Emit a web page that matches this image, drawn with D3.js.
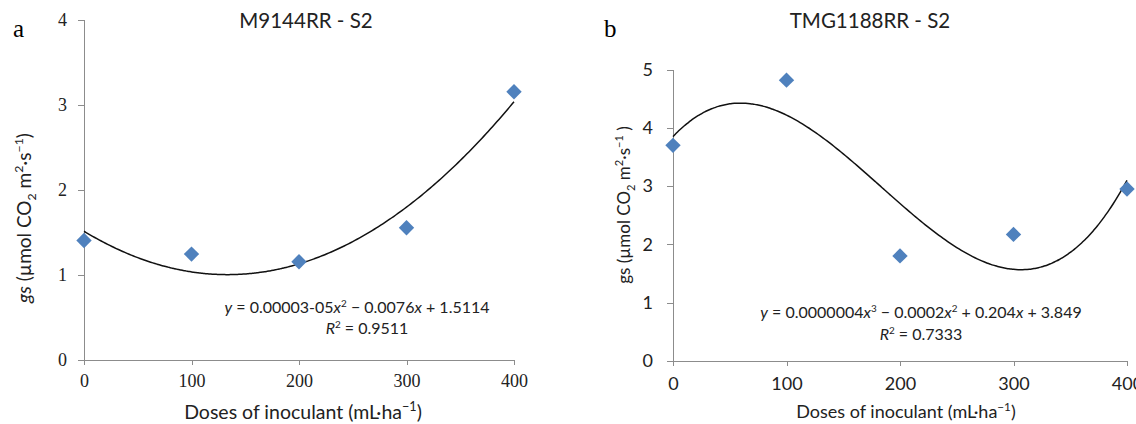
<!DOCTYPE html>
<html>
<head>
<meta charset="utf-8">
<script src="https://cdn.jsdelivr.net/npm/d3@7"></script>
<style>
  html, body { margin: 0; padding: 0; background: #fff; overflow: hidden; }
  svg { display: block; }
  .axis path, .axis line { stroke: #8c8c8c; stroke-width: 1; shape-rendering: crispEdges; }
</style>
</head>
<body>
<svg id="chart" width="1136" height="424"></svg>
<script>
// ---------- data ----------
const doses = [0, 100, 200, 300, 400];
const gsM9144RR = [1.40, 1.24, 1.15, 1.55, 3.15];
const gsTMG1188RR = [3.70, 4.82, 1.80, 2.17, 2.95];
const xTickValues = [0, 100, 200, 300, 400];
const yTicksA = [0, 1, 2, 3, 4];
const yTicksB = [0, 1, 2, 3, 4, 5];
const panelLetters = ["a", "b"];
const panelTitles = ["M9144RR - S2", "TMG1188RR - S2"];
const trendDegrees = [2, 3];
const r2Labels = ["0.9511", "0.7333"];

// ---------- helpers ----------
function polyfit(xs, ys, deg) {
  // least squares polynomial fit (x scaled by 1/100)
  const n = deg + 1;
  const A = Array.from({length: n}, () => new Array(n + 1).fill(0));
  xs.forEach((xv, i) => {
    const u = xv / 100;
    for (let r = 0; r < n; r++) {
      for (let c = 0; c < n; c++) A[r][c] += Math.pow(u, r + c);
      A[r][n] += ys[i] * Math.pow(u, r);
    }
  });
  for (let i = 0; i < n; i++) {
    let p = i;
    for (let k = i + 1; k < n; k++) if (Math.abs(A[k][i]) > Math.abs(A[p][i])) p = k;
    [A[i], A[p]] = [A[p], A[i]];
    for (let k = i + 1; k < n; k++) {
      const f = A[k][i] / A[i][i];
      for (let c = i; c <= n; c++) A[k][c] -= f * A[i][c];
    }
  }
  const coef = new Array(n).fill(0);
  for (let i = n - 1; i >= 0; i--) {
    let s = A[i][n];
    for (let c = i + 1; c < n; c++) s -= A[i][c] * coef[c];
    coef[i] = s / A[i][i];
  }
  return xv => coef.reduce((acc, cf, k) => acc + cf * Math.pow(xv / 100, k), 0);
}

const svg = d3.select("#chart");
const sans = "Lato, 'Open Sans', 'Liberation Sans', sans-serif";
const serif = "'Liberation Serif', 'DejaVu Serif', serif";

const panels = [
  {
    ys: gsM9144RR, yTicks: yTicksA, yMax: 4,
    xRange: [84, 514], yRange: [359.5, 19.5],
    tickFont: serif, tickSize: 18, xPad: 10, yPad: 11,
    letterPos: [13, 37], titlePos: [306, 28],
    yLabelPos: [24, 218], yLabelItalic: true, yLabelSize: 19,
    xLabelPos: [303, 419], xLabelSize: 19.5,
    eqPos: [357, 313], r2Pos: [367, 334], eqSize: 16,
    eqParts: [["y", true], [" = 0.00003-05", false], ["x", true], ["2", "sup"], [" \u2212 0.0076", false], ["x", true], [" + 1.5114", false]]
  },
  {
    ys: gsTMG1188RR, yTicks: yTicksB, yMax: 5,
    xRange: [673, 1127], yRange: [360.7, 69.7],
    tickFont: sans, tickSize: 18, xPad: 12, yPad: 14,
    letterPos: [604, 37], titlePos: [870, 28],
    yLabelPos: [624, 205], yLabelItalic: false, yLabelSize: 17,
    xLabelPos: [906, 418], xLabelSize: 18,
    eqPos: [921, 318], r2Pos: [921, 340], eqSize: 16,
    eqParts: [["y", true], [" = 0.0000004", false], ["x", true], ["3", "sup"], [" \u2212 0.0002", false], ["x", true], ["2", "sup"], [" + 0.204", false], ["x", true], [" + 3.849", false]]
  }
];

panels.forEach((p, i) => {
  const g = svg.append("g");
  const x = d3.scaleLinear().domain([0, 400]).range(p.xRange);
  const y = d3.scaleLinear().domain([0, p.yMax]).range(p.yRange);

  // axes
  const xAxis = g.append("g").attr("class", "axis")
    .attr("transform", `translate(0,${p.yRange[0]})`)
    .call(d3.axisBottom(x).tickValues(xTickValues).tickSize(5).tickSizeOuter(0).tickPadding(p.xPad));
  xAxis.selectAll("text")
    .style("font-family", p.tickFont).style("font-size", p.tickSize + "px").attr("fill", "#222");

  const yAxis = g.append("g").attr("class", "axis")
    .attr("transform", `translate(${p.xRange[0]},0)`)
    .call(d3.axisLeft(y).tickValues(p.yTicks).tickFormat(d3.format("d")).tickSize(6).tickSizeOuter(0).tickPadding(p.yPad));
  yAxis.selectAll("text")
    .style("font-family", p.tickFont).style("font-size", p.tickSize + "px").attr("fill", "#222");

  // trendline (least squares polynomial of the data)
  const fit = polyfit(doses, p.ys, trendDegrees[i]);
  const curve = d3.range(0, 401, 2).map(d => [d, fit(d)]);
  g.append("path")
    .datum(curve)
    .attr("fill", "none")
    .attr("stroke", "#111")
    .attr("stroke-width", 1.5)
    .attr("d", d3.line().x(d => x(d[0])).y(d => y(d[1])).curve(d3.curveMonotoneX));

  // markers
  g.selectAll("path.pt")
    .data(doses.map((d, k) => [d, p.ys[k]]))
    .join("path")
    .attr("class", "pt")
    .attr("d", d3.symbol(d3.symbolSquare, 118))
    .attr("fill", "#4f81bd")
    .attr("transform", d => `translate(${x(d[0])},${y(d[1])}) rotate(45)`);

  // panel letter
  g.append("text")
    .attr("x", p.letterPos[0]).attr("y", p.letterPos[1])
    .style("font-family", serif).style("font-size", "25px").attr("fill", "#000")
    .text(panelLetters[i]);

  // title
  g.append("text")
    .attr("x", p.titlePos[0]).attr("y", p.titlePos[1])
    .attr("text-anchor", "middle")
    .attr("font-family", sans).attr("font-size", 20.5).attr("fill", "#222")
    .text(panelTitles[i]);

  // y label
  const ls = p.yLabelSize, sm = ls * 0.65;
  const yl = g.append("text")
    .attr("transform", `translate(${p.yLabelPos[0]},${p.yLabelPos[1]}) rotate(-90)`)
    .attr("text-anchor", "middle")
    .attr("dy", "0.35em")
    .attr("font-family", sans).attr("font-size", ls).attr("fill", "#222");
  yl.append("tspan").attr("font-style", p.yLabelItalic ? "italic" : "normal").text("gs");
  yl.append("tspan").text(" (\u00b5mol CO");
  yl.append("tspan").attr("font-size", sm).attr("dy", ls * 0.3).text("2");
  yl.append("tspan").attr("dy", -ls * 0.3).text(" m");
  yl.append("tspan").attr("font-size", sm).attr("dy", -ls * 0.4).text("2");
  yl.append("tspan").attr("dy", ls * 0.4).text("\u00b7s");
  yl.append("tspan").attr("font-size", sm).attr("dy", -ls * 0.4).text("\u22121");
  yl.append("tspan").attr("dy", ls * 0.4).text(i === 1 ? " )" : ")");

  // x label
  const xs = p.xLabelSize;
  const xl = g.append("text")
    .attr("x", p.xLabelPos[0]).attr("y", p.xLabelPos[1])
    .attr("text-anchor", "middle")
    .attr("font-family", sans).attr("font-size", xs).attr("fill", "#222");
  xl.append("tspan").text("Doses of inoculant (mL\u00b7ha");
  xl.append("tspan").attr("font-size", xs * 0.65).attr("dy", -xs * 0.4).text("\u22121");
  xl.append("tspan").attr("dy", xs * 0.4).text(")");

  // equation
  const es = p.eqSize;
  const eq = g.append("text")
    .attr("x", p.eqPos[0]).attr("y", p.eqPos[1])
    .attr("text-anchor", "middle")
    .attr("font-family", sans).attr("font-size", es).attr("fill", "#222");
  let shifted = false;
  p.eqParts.forEach(([t, kind]) => {
    const ts = eq.append("tspan").text(t);
    if (kind === "sup") {
      ts.attr("font-size", es * 0.62).attr("dy", -es * 0.35); shifted = true;
    } else {
      if (shifted) { ts.attr("dy", es * 0.35); shifted = false; }
      if (kind === true) ts.attr("font-style", "italic");
    }
  });

  const r2 = g.append("text")
    .attr("x", p.r2Pos[0]).attr("y", p.r2Pos[1])
    .attr("text-anchor", "middle")
    .attr("font-family", sans).attr("font-size", es).attr("fill", "#222");
  r2.append("tspan").attr("font-style", "italic").text("R");
  r2.append("tspan").attr("font-size", es * 0.62).attr("dy", -es * 0.35).text("2");
  r2.append("tspan").attr("dy", es * 0.35).text(" = " + r2Labels[i]);
});
</script>
</body>
</html>
